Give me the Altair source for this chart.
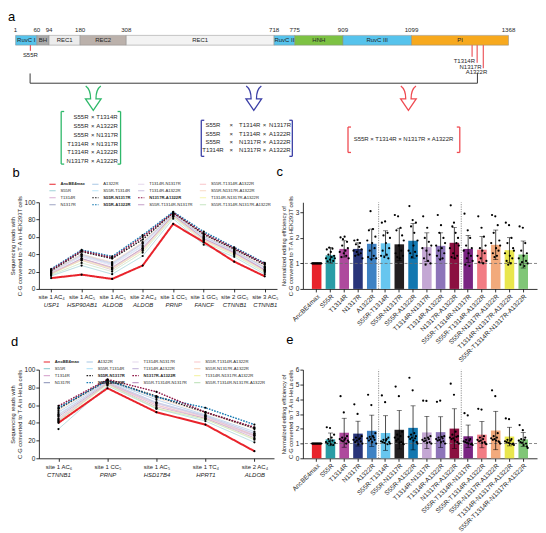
import altair as alt
import pandas as pd

FONT = "Liberation Sans"
INK = "#262626"

# ------------------------------------------------------------------ panel a data
domain_names = ["RuvC I", "BH", "REC1", "REC2", "REC1", "RuvC II", "HNH", "RuvC III", "PI"]
domain_bounds = [1, 60, 94, 180, 308, 718, 775, 909, 1099, 1368]
domain_colors = ["#56c3ec", "#a9a9a9", "#ececec", "#bbb1ab", "#f3f3f3", "#56c3ec", "#7dc243", "#56c3ec", "#f7a91e"]
mutations = ["S55R", "T1314R", "N1317R", "A1322R"]
pair_left = ["S55R", "S55R", "S55R", "T1314R", "T1314R", "N1317R"]
pair_right = ["T1314R", "A1322R", "N1317R", "N1317R", "A1322R", "A1322R"]
triple_1 = ["S55R", "S55R", "S55R", "T1314R"]
triple_2 = ["T1314R", "T1314R", "N1317R", "N1317R"]
triple_3 = ["N1317R", "A1322R", "A1322R", "A1322R"]
quadruple = ["S55R × T1314R × N1317R × A1322R"]
set_colors = ["#2fb86a", "#3b3fa6", "#ef4b52"]

# ------------------------------------------------------------------ variants (b-e)
variants = ["AncBE4max", "S55R", "T1314R", "N1317R", "A1322R",
            "S55R-T1314R", "S55R-N1317R", "S55R-A1322R", "T1314R-N1317R", "T1314R-A1322R", "N1317R-A1322R",
            "S55R-T1314R-N1317R", "S55R-T1314R-A1322R", "S55R-N1317R-A1322R", "T1314R-N1317R-A1322R",
            "S55R-T1314R-N1317R-A1322R"]
bar_colors = ["#e8232b", "#2a9ca6", "#ae4a9d", "#283479", "#3e82c4", "#67c6ef", "#231f20", "#1277b0",
              "#c4a7d4", "#8d74b9", "#8b1040", "#7a2582", "#f27c84", "#f2aa7c", "#e9e64d", "#80c677"]

# ------------------------------------------------------------------ panel b data
sites_b = ["site 1 AC₄|USP1", "site 1 AC₅|HSP90AB1", "site 1 AC₅|ALDOB", "site 2 AC₄|ALDOB",
           "site 1 CC₅|PRNP", "site 1 GC₅|FANCF", "site 2 GC₅|CTNNB1", "site 3 AC₅|CTNNB1"]
hek_reads = {
    "AncBE4max":                 [12.5, 16.5, 11.5, 27, 75, 54, 31.5, 14.5],
    "S55R":                      [15, 27, 17, 38, 81, 51, 37, 17],
    "T1314R":                    [18, 33, 22, 45, 84, 56, 41, 21],
    "N1317R":                    [17, 35, 24, 47, 85, 58, 42, 22],
    "A1322R":                    [20, 40, 30, 53, 86, 60, 44, 25],
    "S55R-T1314R":               [19, 38, 28, 50, 87, 60, 43, 24],
    "S55R-N1317R":               [21, 43, 35, 57, 88, 63, 46, 28],
    "S55R-A1322R":               [23, 45, 37.5, 62, 89, 66, 48, 30],
    "T1314R-N1317R":             [19, 37, 27, 49, 86, 59, 43, 23],
    "T1314R-A1322R":             [20, 39, 29, 52, 86, 61, 44, 25],
    "N1317R-A1322R":             [22, 44, 36, 60, 88, 64, 47, 29],
    "S55R-T1314R-N1317R":        [18, 35, 25, 47, 85, 58, 42, 22],
    "S55R-T1314R-A1322R":        [18, 34, 24, 46, 84, 57, 41, 21],
    "S55R-N1317R-A1322R":        [20, 40, 31, 54, 87, 62, 45, 26],
    "T1314R-N1317R-A1322R":      [17, 33, 23, 44, 84, 56, 40, 20],
    "S55R-T1314R-N1317R-A1322R": [16, 30, 20, 42, 83, 54, 39, 19],
}

# ------------------------------------------------------------------ panel d data
sites_d = ["site 1 AC₆|CTNNB1", "site 1 CC₅|PRNP", "site 1 AC₅|HSD17B4", "site 1 TC₄|HPRT1", "site 2 AC₄|ALDOB"]
hela_reads = {
    "AncBE4max":                 [40, 79, 52, 38, 8],
    "S55R":                      [33, 82, 56, 42, 18],
    "T1314R":                    [45, 85, 60, 45, 25],
    "N1317R":                    [47, 85, 62, 47, 26],
    "A1322R":                    [52, 87, 66, 49, 30],
    "S55R-T1314R":               [50, 86, 63, 48, 28],
    "S55R-N1317R":               [56, 88, 70, 52, 34],
    "S55R-A1322R":               [57, 88, 69, 57, 38],
    "T1314R-N1317R":             [48, 86, 62, 47, 27],
    "T1314R-A1322R":             [49, 86, 63, 48, 28],
    "N1317R-A1322R":             [59, 89, 75, 52, 35],
    "S55R-T1314R-N1317R":        [42, 84, 58, 45, 23],
    "S55R-T1314R-A1322R":        [44, 85, 60, 46, 26],
    "S55R-N1317R-A1322R":        [54, 88, 68, 51, 33],
    "T1314R-N1317R-A1322R":      [41, 83, 57, 44, 22],
    "S55R-T1314R-N1317R-A1322R": [43, 84, 56, 44, 21],
}

# ------------------------------------------------------------------ panel c data
hek_mean = [1.0, 1.32, 1.57, 1.57, 1.77, 1.79, 1.75, 1.89, 1.64, 1.69, 1.81, 1.57, 1.54, 1.73, 1.52, 1.35]
hek_upper = [1.0, 1.62, 1.89, 1.81, 2.35, 2.28, 2.38, 2.57, 2.20, 2.20, 2.41, 2.10, 2.05, 2.31, 2.01, 1.88]
hek_reps = [
    [1.0, 1.0, 1.0, 1.0, 1.0, 1.0, 1.0, 1.0, 1.0, 1.0, 1.0, 1.0],
    [1.20, 1.55, 1.08, 1.35, 1.62, 1.15, 1.45, 1.25, 1.58, 1.10, 1.30, 1.20],
    [1.45, 2.02, 1.25, 1.70, 1.95, 1.40, 2.05, 1.50, 1.30, 1.85, 1.60, 1.20],
    [1.50, 1.90, 1.30, 1.75, 1.45, 1.92, 1.35, 1.65, 1.80, 1.40, 1.55, 1.20],
    [1.90, 1.25, 2.30, 1.50, 3.05, 1.15, 1.80, 2.35, 1.30, 1.60, 2.05, 1.20],
    [1.30, 2.60, 1.50, 2.10, 1.25, 2.65, 1.80, 1.35, 2.20, 1.20, 1.60, 2.00],
    [2.90, 1.40, 2.30, 1.25, 2.85, 1.70, 1.20, 2.40, 1.50, 2.10, 1.30, 1.90],
    [1.50, 3.25, 1.40, 2.45, 1.25, 2.70, 1.70, 2.20, 1.45, 2.60, 1.30, 1.90],
    [1.60, 2.85, 1.20, 2.00, 0.95, 1.50, 2.40, 1.10, 1.85, 1.35, 1.00, 1.70],
    [1.70, 1.30, 2.90, 1.50, 2.20, 1.15, 2.50, 1.60, 1.20, 2.00, 1.40, 1.80],
    [1.60, 3.28, 1.25, 2.45, 1.40, 2.60, 1.20, 2.20, 1.80, 1.30, 2.00, 1.70],
    [1.50, 2.95, 0.95, 1.70, 1.20, 2.30, 1.40, 0.90, 2.00, 1.30, 1.60, 1.10],
    [1.30, 2.85, 1.05, 1.60, 1.20, 2.40, 1.50, 1.00, 2.05, 1.40, 1.70, 1.10],
    [1.80, 2.90, 1.40, 2.20, 1.25, 2.85, 1.60, 1.30, 2.50, 1.50, 1.90, 1.70],
    [1.40, 2.60, 1.10, 1.80, 0.95, 2.50, 1.30, 1.00, 2.00, 1.20, 1.60, 1.50],
    [1.20, 2.45, 0.95, 1.50, 1.05, 2.40, 1.30, 0.90, 1.80, 1.10, 1.40, 1.00],
]

# ------------------------------------------------------------------ panel e data
hela_mean = [1.0, 1.28, 1.73, 1.67, 1.86, 1.71, 1.93, 2.06, 1.75, 1.77, 2.01, 1.49, 1.60, 1.88, 1.47, 1.28]
hela_upper = [1.0, 1.71, 2.71, 2.51, 2.92, 2.88, 3.23, 3.55, 2.84, 2.81, 3.35, 2.25, 2.49, 3.18, 2.10, 1.75]
hela_reps = [
    [1.0, 1.0, 1.0, 1.0, 1.0, 1.0, 1.0, 1.0, 1.0, 1.0, 1.0, 1.0],
    [1.10, 2.10, 1.00, 1.30, 1.15, 2.05, 0.95, 1.40, 1.20, 0.90, 1.60, 1.05],
    [1.30, 4.20, 1.20, 1.40, 1.15, 3.10, 1.25, 1.35, 1.00, 1.50, 1.20, 1.10],
    [1.25, 3.65, 1.10, 1.40, 1.20, 3.00, 0.95, 1.30, 1.35, 1.15, 1.50, 1.00],
    [1.35, 4.30, 1.20, 1.45, 1.30, 3.60, 1.10, 1.50, 1.40, 1.25, 1.70, 1.00],
    [1.15, 4.25, 1.10, 1.25, 1.05, 3.80, 1.20, 1.30, 0.95, 1.40, 1.10, 1.00],
    [1.40, 4.85, 1.20, 1.60, 1.30, 4.20, 1.05, 1.50, 1.10, 1.80, 1.00, 0.95],
    [1.45, 5.45, 1.30, 1.60, 1.40, 4.60, 1.20, 1.70, 1.35, 1.50, 1.10, 1.00],
    [1.25, 3.90, 1.15, 1.35, 1.20, 3.88, 1.05, 1.40, 1.30, 1.10, 1.50, 1.00],
    [1.30, 3.82, 1.20, 1.40, 1.25, 3.90, 1.10, 1.45, 1.35, 1.15, 1.50, 1.00],
    [1.40, 5.05, 1.30, 1.60, 1.35, 4.30, 1.20, 1.80, 1.45, 1.10, 1.50, 1.00],
    [1.15, 3.05, 1.10, 1.25, 1.05, 2.90, 1.00, 1.20, 1.30, 0.95, 1.00, 0.90],
    [1.25, 3.35, 1.15, 1.40, 1.20, 3.30, 1.05, 1.30, 1.50, 1.10, 1.00, 0.95],
    [1.35, 4.60, 1.25, 1.50, 1.30, 4.20, 1.20, 1.40, 1.70, 1.15, 1.10, 1.00],
    [1.15, 2.70, 1.10, 1.25, 1.05, 2.65, 1.00, 1.20, 1.30, 0.95, 1.00, 0.90],
    [1.20, 2.25, 1.10, 1.30, 1.05, 1.90, 0.90, 1.25, 1.40, 1.00, 0.80, 0.70],
]

# ================================================================== layout / style
W_LEFT, W_RIGHT = 239, 235
H_A, H_BC, H_DE = 98, 87, 89
emphasis = {"AncBE4max": "anc", "S55R-N1317R": "dot", "S55R-A1322R": "dot", "N1317R-A1322R": "dot"}


def tint(hexcol, f):
    r, g, b = (int(hexcol[i:i + 2], 16) for i in (1, 3, 5))
    return "#%02x%02x%02x" % tuple(round(c + (255 - c) * f) for c in (r, g, b))


line_color = {v: (c if v in emphasis else tint(c, 0.55)) for v, c in zip(variants, bar_colors)}
line_dash = {v: ([1.6, 1.2] if emphasis.get(v) == "dot" else [1, 0]) for v in variants}
bold_test = "indexof(['AncBE4max', 'S55R-N1317R', 'S55R-A1322R', 'N1317R-A1322R'], datum.label) >= 0 ? 'bold' : 'normal'"


def letter(t, dx, dy):
    return alt.TitleParams(t, anchor="start", frame="group", fontSize=13, fontWeight="normal",
                           font=FONT, color="black", dx=dx, dy=dy, offset=0)


# ================================================================== panel a
def panel_a():
    # diagram coordinates: x on the residue scale, y in rows (0 = top)
    bar_y = (11.5, 21.3)
    num_y = 5.6
    mut_x = [42, 1267, 1281, 1298]
    mut_end = [27, 33, 39, 44.5]
    mut_lab_x = [42, 1275, 1293, 1309]
    mut_lab_y = [31.6, 37.4, 42.8, 48.2]
    big = (41.3, 1281.8, 49.7, 59.5)
    arrow_x, arrow_y = [216.5, 661.6, 1090.4], 74.6
    boxes = [(127.5, 292.2, 87.9, 140.7), (516.0, 768.5, 96.7, 132.9), (922.9, 1232.9, 103.5, 129.0)]
    arm = 8.3
    green_rows = [93.7, 102.5, 111.4, 120.2, 129.0, 137.8]
    blue_rows = [101.9, 110.1, 118.2, 126.3]
    red_row = 116.0
    fs_set = 6.0

    rects = pd.DataFrame({"start": domain_bounds[:-1], "end": domain_bounds[1:],
                          "name": domain_names, "col": domain_colors})
    rects["mid"] = (rects["start"] + rects["end"]) / 2
    rects["y0"], rects["y1"] = bar_y

    segs = []
    for x, e in zip(mut_x, mut_end):
        segs.append((x, x, bar_y[1], e, "#e8383f", 1.0))
    x0, x1, yt, yb = big
    segs += [(x0, x1, yb, yb, "#3a3a3a", 1.0), (x0, x0, yt, yb, "#3a3a3a", 1.0), (x1, x1, yt, yb, "#3a3a3a", 1.0)]
    for (xl, xr, yt, yb), c in zip(boxes, set_colors):
        segs += [(xl, xl, yt, yb, c, 1.3), (xl, xl + arm, yt, yt, c, 1.3), (xl, xl + arm, yb, yb, c, 1.3),
                 (xr, xr, yt, yb, c, 1.3), (xr - arm, xr, yt, yt, c, 1.3), (xr - arm, xr, yb, yb, c, 1.3)]
    segs = pd.DataFrame(segs, columns=["x", "x2", "y", "y2", "col", "w"])

    texts = []
    for b in domain_bounds:
        texts.append((b, num_y, str(b), "center", 6.2))
    for _, r in rects.iterrows():
        texts.append((r["mid"], 16.4, r["name"], "center", 6.0))
    for i, (m, lx, ly) in enumerate(zip(mutations, mut_lab_x, mut_lab_y)):
        texts.append((lx, ly, m, "center" if i == 0 else "right", 6.0))
    for y, l, r in zip(green_rows, pair_left, pair_right):
        texts += [(203.2, y, l, "right", fs_set), (215.1, y, "×", "center", fs_set), (224.8, y, r, "left", fs_set)]
    for y, a, b, c in zip(blue_rows, triple_1, triple_2, triple_3):
        texts += [(548.3, y, a, "center", fs_set), (599.4, y, "×", "center", fs_set),
                  (620.9, y, b, "left", fs_set), (691.0, y, "×", "center", fs_set),
                  (704.0, y, c, "left", fs_set)]
    texts.append((1076.8, red_row, quadruple[0], "center", fs_set))
    texts = pd.DataFrame(texts, columns=["x", "y", "t", "align", "fs"])

    arrows = pd.DataFrame({"x": arrow_x, "y": [arrow_y] * 3, "col": set_colors})

    xs = alt.Scale(domain=[65.65, 725.95], nice=False, zero=False)
    ys = alt.Scale(domain=[0, H_A], nice=False, zero=False, reverse=True)

    def X(f):
        return alt.X(f, type="quantitative", scale=xs, axis=None)

    def Y(f):
        return alt.Y(f, type="quantitative", scale=ys, axis=None)

    layers = [
        alt.Chart(rects).mark_rect(stroke="#8c8c8c", strokeWidth=0.5).encode(
            x=X("start"), x2="end", y=Y("y0"), y2="y1", color=alt.Color("col:N", scale=None)),
        alt.Chart(segs).mark_rule().encode(
            x=X("x"), x2="x2", y=Y("y"), y2="y2", color=alt.Color("col:N", scale=None),
            strokeWidth=alt.StrokeWidth("w:Q", scale=None)),
        alt.Chart(arrows).mark_point(
            shape="M -0.62 -1 Q -0.22 -0.72 -0.22 0.05 L -0.64 0.05 L 0 1 L 0.64 0.05 L 0.22 0.05 Q 0.22 -0.72 0.62 -1",
            filled=False, size=600, strokeWidth=1.3, opacity=1).encode(
            x=X("x"), y=Y("y"), color=alt.Color("col:N", scale=None)),
    ]
    for al in ["left", "center", "right"]:
        layers.append(alt.Chart(texts).transform_filter(f"datum.align == '{al}'").mark_text(
            align=al, baseline="middle", font=FONT, color=INK).encode(
            x=X("x"), y=Y("y"), text="t:N", size=alt.Size("fs:Q", scale=None)))
    return alt.layer(*layers).properties(width=W_LEFT, height=H_A, title=letter("a", -31, 0))


def spacer():
    return alt.Chart(pd.DataFrame({"v": [0]})).mark_point(opacity=0).encode(
        x=alt.X("v:Q", axis=None), y=alt.Y("v:Q", axis=None)).properties(width=W_RIGHT, height=H_A)


# ================================================================== panels b / d
def line_panel(sites, reads, ytitle, width, height, lx, ly, let, ldx, ldy):
    rows = []
    for v in variants:
        for s, val in zip(sites, reads[v]):
            rows.append({"variant": v, "site": s, "reads": val, "kind": emphasis.get(v, "base")})
    df = pd.DataFrame(rows)
    xscale = alt.Scale(type="point", padding=0.4)
    leg = alt.Legend(title=None, orient="none", legendX=lx, legendY=ly, columns=4, labelFontSize=4.2,
                     labelFont=FONT, labelColor=INK, symbolSize=40, symbolStrokeWidth=1.1, symbolType="stroke",
                     columnPadding=4, rowPadding=0, labelOffset=4, padding=0, labelLimit=200, gridAlign="each",
                     labelFontWeight=alt.ExprRef(bold_test))
    yenc = alt.Y("reads:Q", scale=alt.Scale(domain=[0, 100], nice=False),
                 axis=alt.Axis(values=[0, 20, 40, 60, 80, 100], title=ytitle, titlePadding=2, labelPadding=1))
    col = alt.Color("variant:N", scale=alt.Scale(domain=variants, range=[line_color[v] for v in variants]),
                    legend=leg)
    dash = alt.StrokeDash("variant:N", scale=alt.Scale(domain=variants, range=[line_dash[v] for v in variants]),
                          legend=leg)
    x_site = alt.X("site:N", sort=sites, scale=xscale, title=None,
                   axis=alt.Axis(orient="bottom", labelExpr="split(datum.value, '|')[0]", labelAngle=0,
                                 labelFontSize=6, labelPadding=2, labelOverlap=False))
    x_plain = alt.X("site:N", sort=sites, scale=xscale, title=None, axis=None)
    x_gene = alt.X("site:N", sort=sites, scale=xscale, title=None,
                   axis=alt.Axis(orient="bottom", offset=12, labelExpr="split(datum.value, '|')[1]",
                                 labelFontStyle="italic", labelAngle=0, domain=False, ticks=False,
                                 labelFontSize=6, labelPadding=1, labelOverlap=False))
    base = alt.Chart(df)
    pale = base.transform_filter("datum.kind == 'base'").mark_line(strokeWidth=0.8).encode(
        x=x_site, y=yenc, color=col, strokeDash=dash)
    dotted = base.transform_filter("datum.kind == 'dot'").mark_line(strokeWidth=1.4).encode(
        x=x_plain, y=yenc, color=col, strokeDash=dash)
    anc = base.transform_filter("datum.kind == 'anc'").mark_line(strokeWidth=2).encode(
        x=x_plain, y=yenc, color=col, strokeDash=dash)
    dots = base.mark_circle(size=5, color="black", opacity=1).encode(x=x_gene, y=yenc)
    return alt.layer(pale, dotted, anc, dots).resolve_axis(x="independent").properties(
        width=width, height=height, title=letter(let, ldx, ldy))


# ================================================================== panels c / e
slot_domain = ["p0", "p1", "p2"] + [str(i) for i in range(12)] + ["q0", "q1", "q2"]


def bar_panel(means, uppers, reps, ymax, yvals, ytitle, height, let, ldx, ldy):
    dfm = pd.DataFrame({"variant": variants, "mean": means, "hi": uppers, "col": bar_colors})
    dfm["lo"] = 2 * dfm["mean"] - dfm["hi"]
    dfm["y0"] = 0.0
    dfm["ytop"] = float(ymax)
    reps_df = pd.DataFrame([{"variant": v, "slot": str(i), "val": val}
                            for v, vals in zip(variants, reps) for i, val in enumerate(vals)])
    xs = alt.Scale(paddingInner=0, paddingOuter=0.5)
    xax = alt.Axis(labelAngle=-45, labelFontSize=6.5, labelPadding=1, labelOverlap=False)
    X = alt.X("variant:N", sort=variants, scale=xs, title=None, axis=xax)
    ys = alt.Scale(domain=[0, ymax], nice=False)
    ax = alt.Axis(values=yvals, title=ytitle, titlePadding=2, labelPadding=1)

    def Y(f):
        return alt.Y(f, type="quantitative", scale=ys, axis=ax)

    base = alt.Chart(dfm)
    bars = base.mark_bar(size=9.6).encode(x=X, y=Y("mean"), color=alt.Color("col:N", scale=None))
    refline = alt.Chart(pd.DataFrame({"one": [1.0]})).mark_rule(
        strokeDash=[3, 2], color="#6d6d6d", strokeWidth=0.8).encode(y=Y("one"))
    seps = base.transform_filter(
        "datum.variant == 'S55R-T1314R' || datum.variant == 'S55R-T1314R-N1317R'").mark_rule(
        strokeDash=[1.2, 1.2], color="#777777", strokeWidth=0.8).encode(
        x=alt.X("variant:N", sort=variants, scale=xs, bandPosition=0, title=None, axis=xax),
        y=Y("y0"), y2="ytop")
    errs = base.transform_filter("datum.hi > datum.mean")
    err_rule = errs.mark_rule(color="black", strokeWidth=0.7).encode(x=X, y=Y("lo"), y2="hi")
    cap_hi = errs.mark_tick(color="black", thickness=0.7, size=5).encode(x=X, y=Y("hi"))
    cap_lo = errs.mark_tick(color="black", thickness=0.7, size=5).encode(x=X, y=Y("lo"))
    pts = alt.Chart(reps_df).mark_circle(size=5, color="black", opacity=1).encode(
        x=X, xOffset=alt.XOffset("slot:N", scale=alt.Scale(domain=slot_domain, paddingOuter=0)),
        y=Y("val"))
    return alt.layer(bars, refline, seps, err_rule, cap_hi, cap_lo, pts).properties(
        width=W_RIGHT, height=height, title=letter(let, ldx, ldy))


a = panel_a()
b = line_panel(sites_b, hek_reads, ["Sequencing reads with", "C·G converted to T·A in HEK293T cells"],
               W_LEFT, H_BC, 9.7, -22.5, "b", -26.4, 0)
c = bar_panel(hek_mean, hek_upper, hek_reps, 3.4, [0, 1, 2, 3],
              ["Normalized editing efficiency of", "C·G converted to T·A in HEK293T cells"], H_BC, "c", -26.4, -16)
d = line_panel(sites_d, hela_reads, ["Sequencing reads with", "C·G converted to T·A in HeLa cells"],
               236, H_DE, 4, -12, "d", -28, -9)
e = bar_panel(hela_mean, hela_upper, hela_reps, 6, [0, 1, 2, 3, 4, 5, 6],
              ["Normalized editing efficiency of", "C·G converted to T·A in HeLa cells"], H_DE, "e", -16.6, -20)

chart = alt.concat(a, spacer(), b, c, d, e, columns=2, spacing={"row": 81, "column": 26}, bounds="flush")
chart = chart.resolve_scale(color="independent", strokeDash="independent", size="independent",
                            strokeWidth="independent", opacity="independent")
chart = chart.resolve_legend(color="independent", strokeDash="independent")
chart = chart.properties(padding={"top": 2, "left": 0, "right": 0, "bottom": 0}).configure_view(
    strokeWidth=0).configure_axis(
    domainColor="black", domainWidth=0.8, tickColor="black", tickWidth=0.8, tickSize=3,
    labelFontSize=6.5, labelColor=INK, titleFontSize=5.8, titleColor=INK, titleFontWeight="normal",
    grid=False, labelFont=FONT, titleFont=FONT, titleLineHeight=6.8)

chart.save("out.html", embed_options={"renderer": "svg", "actions": False})
